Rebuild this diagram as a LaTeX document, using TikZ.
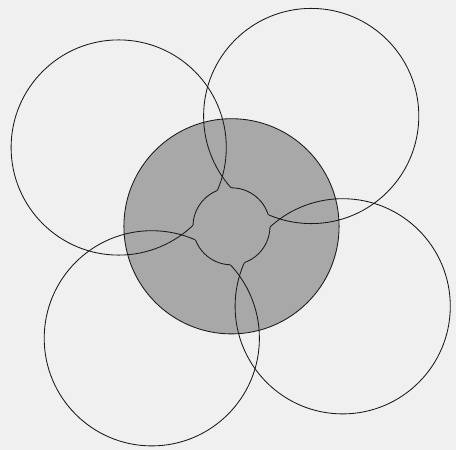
\documentclass[tikz,border=0pt]{standalone}
\begin{document}
\begin{tikzpicture}[x=1pt,y=-1pt]
\definecolor{paper}{RGB}{240,240,240}
\definecolor{discgrey}{RGB}{168,168,168}
\definecolor{ink}{RGB}{25,25,25}
\tikzset{ring/.style={draw=ink,line width=0.85pt}}
\fill[paper] (0,0) rectangle (456,450);
\useasboundingbox (0,0) rectangle (456,450);
\def\R{107.6}
\def\r{38.5}
\coordinate (G) at (231.5,226.3);
\coordinate (TL) at (118.7,147.5);
\coordinate (TR) at (311.2,116.0);
\coordinate (BR) at (342.7,306.3);
\coordinate (BL) at (151.8,338.3);
% shaded disc
\fill[discgrey] (G) circle (\R);
\draw[ring] (G) circle (\R);
% four large circles, drawn outside the inner disc
\foreach \c in {TL,TR,BR,BL}{
  \draw[ring] (\c) circle (\R);
}
\fill[discgrey] (G) circle (\r);
% inner circle, only where it lies inside a large circle
\foreach \c in {TL,TR,BR,BL}{
  \begin{scope}
    \clip (\c) circle (\R);
    \draw[ring] (G) circle (\r);
  \end{scope}
}
\end{tikzpicture}
\end{document}
